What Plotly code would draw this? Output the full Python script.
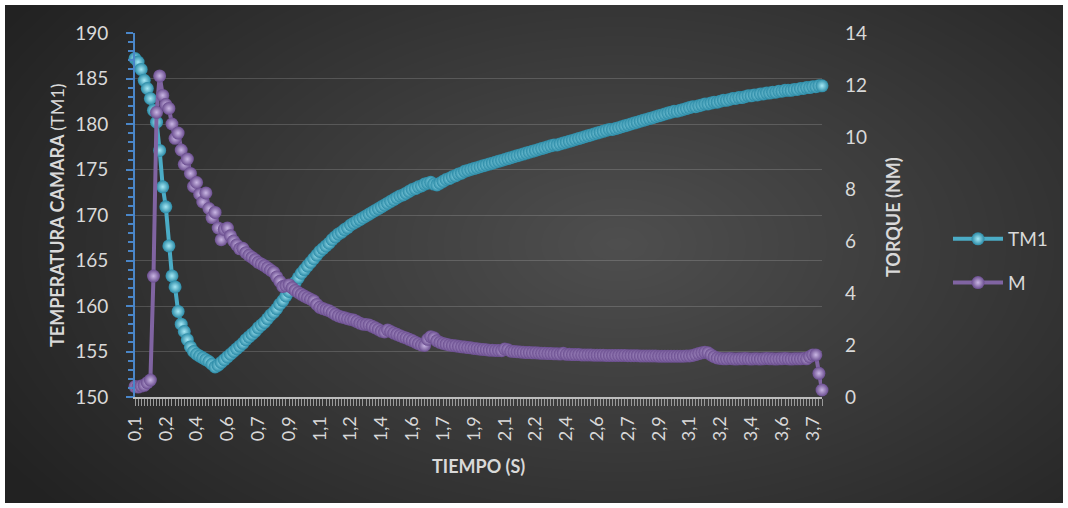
import numpy as np
import plotly.graph_objects as go

# ---------------- data ----------------
tick_labels = ["0,1", "0,2", "0,4", "0,6", "0,7", "0,9", "1,1", "1,2", "1,4", "1,6", "1,7", "1,9",
               "2,1", "2,2", "2,4", "2,6", "2,7", "2,9", "3,1", "3,2", "3,4", "3,6", "3,7"]

tm1 = [187.2, 186.8, 186.0, 184.8, 183.9, 182.8, 181.5, 180.2, 177.1, 173.1,
       170.9, 166.6, 163.3, 162.1, 159.4, 158.0, 157.2, 156.3, 155.5, 155.0,
       154.7, 154.5, 154.3, 154.1, 153.9, 153.6, 153.3, 153.5, 153.8, 154.1,
       154.4, 154.7, 155.0, 155.3, 155.6, 155.9, 156.3, 156.6, 156.9, 157.2,
       157.6, 157.9, 158.2, 158.6, 159.0, 159.3, 159.7, 160.2, 160.6, 161.1,
       161.6, 162.1, 162.6, 163.1, 163.6, 164.0, 164.4, 164.8, 165.2, 165.6,
       166.0, 166.3, 166.6, 166.9, 167.3, 167.6, 167.9, 168.1, 168.4, 168.6,
       168.9, 169.1, 169.3, 169.5, 169.7, 169.9, 170.1, 170.3, 170.5, 170.7,
       170.9, 171.1, 171.3, 171.5, 171.7, 171.9, 172.1, 172.2, 172.4, 172.6,
       172.8, 172.9, 173.1, 173.2, 173.4, 173.5, 173.6, 173.4, 173.3, 173.5,
       173.7, 173.9, 174.0, 174.2, 174.3, 174.5, 174.6, 174.8, 174.9, 175.0,
       175.1, 175.2, 175.3, 175.4, 175.5, 175.6, 175.7, 175.8, 175.9, 176.0,
       176.1, 176.2, 176.3, 176.4, 176.5, 176.6, 176.7, 176.8, 176.9, 177.0,
       177.1, 177.2, 177.3, 177.4, 177.5, 177.6, 177.7, 177.7, 177.8, 177.9,
       178.0, 178.1, 178.2, 178.3, 178.4, 178.5, 178.6, 178.7, 178.8, 178.9,
       179.0, 179.1, 179.2, 179.3, 179.4, 179.4, 179.5, 179.6, 179.7, 179.8,
       179.9, 180.0, 180.1, 180.2, 180.3, 180.4, 180.5, 180.6, 180.7, 180.8,
       180.9, 181.0, 181.1, 181.2, 181.3, 181.4, 181.4, 181.5, 181.6, 181.7,
       181.8, 181.9, 181.9, 182.0, 182.1, 182.2, 182.2, 182.3, 182.4, 182.4,
       182.5, 182.6, 182.6, 182.7, 182.8, 182.8, 182.9, 182.9, 183.0, 183.1,
       183.1, 183.2, 183.2, 183.3, 183.3, 183.4, 183.4, 183.5, 183.5, 183.6,
       183.6, 183.7, 183.7, 183.7, 183.8, 183.8, 183.9, 183.9, 184.0, 184.0,
       184.1, 184.1, 184.2, 184.2]

m = [0.40, 0.38, 0.42, 0.45, 0.55, 0.65, 4.65, 10.95, 12.35, 11.6,
     11.25, 11.1, 10.5, 9.95, 10.15, 9.5, 8.95, 9.15, 8.6, 8.1,
     8.25, 7.8, 7.5, 7.85, 7.25, 6.9, 7.1, 6.5, 6.05, 6.45,
     6.5, 6.2, 6.0, 5.85, 5.7, 5.72, 5.55, 5.45, 5.37, 5.28,
     5.18, 5.12, 5.05, 4.97, 4.88, 4.8, 4.62, 4.45, 4.25, 4.28,
     4.31, 4.2, 4.1, 4.02, 3.95, 3.88, 3.82, 3.76, 3.7, 3.56,
     3.45, 3.4, 3.36, 3.32, 3.25, 3.18, 3.12, 3.08, 3.05, 3.01,
     2.98, 2.96, 2.9, 2.84, 2.8, 2.79, 2.77, 2.72, 2.66, 2.6,
     2.53, 2.5, 2.58, 2.52, 2.46, 2.41, 2.36, 2.31, 2.27, 2.22,
     2.17, 2.11, 2.05, 2.0, 1.98, 2.22, 2.32, 2.28, 2.16, 2.1,
     2.06, 2.03, 2.0, 1.98, 1.97, 1.95, 1.93, 1.92, 1.9, 1.89,
     1.87, 1.86, 1.84, 1.83, 1.82, 1.8, 1.8, 1.79, 1.79, 1.78,
     1.85, 1.82, 1.76, 1.75, 1.74, 1.73, 1.72, 1.71, 1.71, 1.7,
     1.7, 1.69, 1.68, 1.68, 1.67, 1.67, 1.66, 1.66, 1.65, 1.68,
     1.64, 1.64, 1.63, 1.63, 1.63, 1.62, 1.62, 1.62, 1.62, 1.61,
     1.61, 1.61, 1.61, 1.6, 1.6, 1.6, 1.6, 1.6, 1.6, 1.6,
     1.59, 1.59, 1.59, 1.59, 1.58, 1.58, 1.58, 1.58, 1.58, 1.58,
     1.57, 1.57, 1.57, 1.57, 1.57, 1.57, 1.57, 1.57, 1.57, 1.58,
     1.58, 1.6, 1.63, 1.67, 1.7, 1.72, 1.7, 1.62, 1.55, 1.5,
     1.48, 1.47, 1.47, 1.48, 1.47, 1.46, 1.47, 1.47, 1.48, 1.47,
     1.46, 1.47, 1.47, 1.46, 1.47, 1.48, 1.47, 1.47, 1.46, 1.47,
     1.47, 1.48, 1.47, 1.46, 1.47, 1.47, 1.47, 1.48, 1.47, 1.55,
     1.62, 1.62, 0.91, 0.27]

idx = list(range(len(tm1)))

# ---------------- layout helpers ----------------
W, H = 1068, 508
FONT = "Lato"
TXT = "#d9d9d9"


def fx(p):
    return p / W


def fy(p):
    return 1 - p / H


fig = go.Figure()

# radial dark-gray background gradient (style only)
gx = np.linspace(0, 1, 90)
gy = np.linspace(0, 1, 45)
GX, GY = np.meshgrid(gx, gy)
R = np.sqrt(((GX - 0.58) / 0.68) ** 2 + ((GY - 0.52) / 0.85) ** 2)
Z = np.clip(1 - R, 0, 1)
fig.add_trace(go.Heatmap(x=gx, y=gy, z=Z, xaxis="x", yaxis="y",
                         colorscale=[[0, "#222222"], [1, "#4e4e4e"]],
                         zsmooth="best", showscale=False, hoverinfo="skip",
                         showlegend=False))

fig.add_trace(go.Scatter(
    x=idx, y=tm1, name="TM1", mode="lines+markers", xaxis="x2", yaxis="y2",
    line=dict(color="#4bacc6", width=4),
    marker=dict(size=13, color="#2a8aa6",
                gradient=dict(type="radial", color="#a6e8f5"),
                line=dict(width=0)),
    cliponaxis=False, legendgroup="a"))

fig.add_trace(go.Scatter(
    x=idx, y=m, name="M", mode="lines+markers", xaxis="x2", yaxis="y3",
    line=dict(color="#8064a2", width=4),
    marker=dict(size=13, color="#6a4d8f",
                gradient=dict(type="radial", color="#c9b6e3"),
                line=dict(width=0)),
    cliponaxis=False, legendgroup="b"))

fig.update_layout(
    width=W, height=H,
    margin=dict(l=0, r=0, t=0, b=0, pad=0),
    paper_bgcolor="white",
    plot_bgcolor="rgba(0,0,0,0)",
    font=dict(family=FONT, color=TXT),
    xaxis=dict(domain=[fx(5), fx(1063)], range=[0, 1], visible=False,
               fixedrange=True, automargin=False),
    yaxis=dict(domain=[fy(503), fy(5)], range=[0, 1], visible=False,
               fixedrange=True, automargin=False),
    xaxis2=dict(domain=[fx(135), fx(822)], anchor="y2", range=[0, len(tm1) - 1],
                tickmode="array", tickvals=idx[::10], ticktext=tick_labels,
                tickangle=-90, tickfont=dict(size=18, color=TXT, family=FONT),
                showline=True, linecolor="#bdbdbd", linewidth=2,
                ticks="outside", ticklen=7, tickcolor="#9a9a9a", tickwidth=1,
                minor=dict(ticks="outside", ticklen=7, tickcolor="#9a9a9a",
                           tickwidth=1, dtick=1, tick0=0, showgrid=False),
                showgrid=False, zeroline=False, ticklabelstandoff=3,
                automargin=False),
    yaxis2=dict(domain=[fy(397), fy(33)], anchor="x2", range=[150, 190],
                tick0=150, dtick=5, showgrid=True,
                gridcolor="rgba(255,255,255,0.16)", gridwidth=1,
                showline=True, linecolor="#4a86c8", linewidth=2,
                ticks="outside", ticklen=7, tickcolor="#4a86c8", tickwidth=2,
                minor=dict(ticks="outside", ticklen=5, tickcolor="#4a86c8",
                           tickwidth=1.5, dtick=1, showgrid=False),
                tickfont=dict(size=19, color=TXT, family=FONT),
                zeroline=False, ticklabelstandoff=14, automargin=False),
    yaxis3=dict(overlaying="y2", side="right", anchor="x2", range=[0, 14],
                tick0=0, dtick=2, showgrid=False, showline=False, ticks="",
                tickfont=dict(size=19, color=TXT, family=FONT),
                zeroline=False, ticklabelstandoff=22, automargin=False),
    legend=dict(x=fx(948), y=fy(220), xanchor="left", yanchor="top",
                bgcolor="rgba(0,0,0,0)", font=dict(size=19, color=TXT, family=FONT),
                tracegroupgap=16, itemwidth=50),
    annotations=[
        dict(text="<b>TEMPERATURA CAMARA </b>(TM1)", x=fx(57), y=fy(215),
             xref="paper", yref="paper", showarrow=False, textangle=-90,
             xanchor="center", yanchor="middle",
             font=dict(size=18, color=TXT, family=FONT)),
        dict(text="<b>TORQUE (NM)</b>", x=fx(893), y=fy(217),
             xref="paper", yref="paper", showarrow=False, textangle=-90,
             xanchor="center", yanchor="middle",
             font=dict(size=18, color=TXT, family=FONT)),
        dict(text="<b>TIEMPO (S)</b>", x=fx(478), y=fy(466),
             xref="paper", yref="paper", showarrow=False,
             xanchor="center", yanchor="middle",
             font=dict(size=18, color=TXT, family=FONT)),
    ],
)

fig.write_html("out.html",
               config={"displayModeBar": False},
               post_script="document.body.style.margin='0px';"
                           "document.body.style.overflow='hidden';")
